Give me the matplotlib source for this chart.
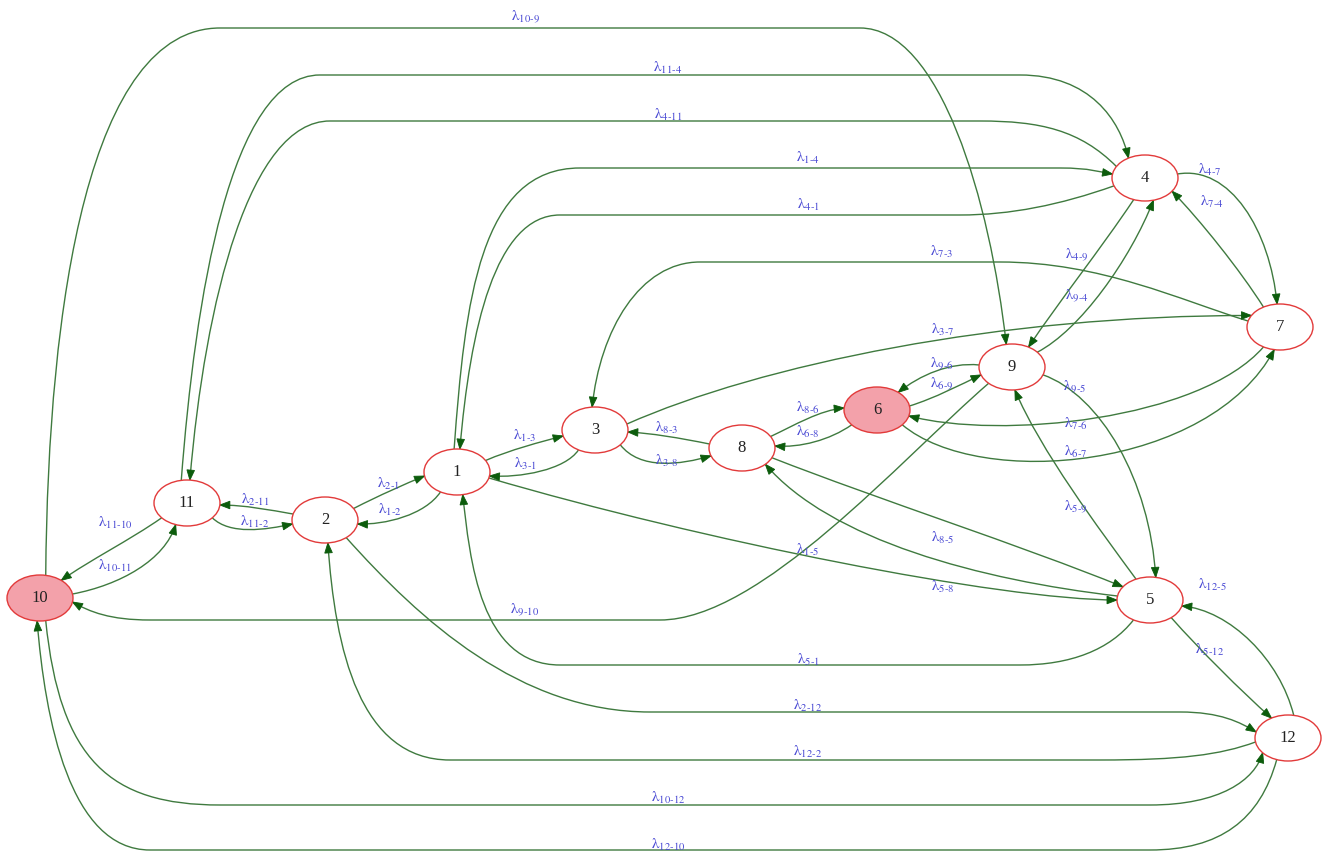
import numpy as np
import matplotlib.pyplot as plt
from matplotlib.path import Path
from matplotlib.patches import Ellipse, PathPatch, Polygon

plt.rcParams['mathtext.fontset'] = 'stix'

# nodes of the state graph
nodes = ['1', '2', '3', '4', '5', '6', '7', '8', '9', '10', '11', '12']
filled = ['6', '10']

# layout (pixel positions of the node centres)
node_x = [457, 325, 595, 1145, 1150, 877, 1280, 742, 1012, 40, 187, 1288]
node_y = [472, 520, 430, 178, 600, 410, 327, 448, 367, 598, 503, 738]
pos = dict(zip(nodes, zip(node_x, node_y)))
RX, RY = 33, 23

# transitions: source, target
edge_src = ['10', '11', '4', '1', '4', '4', '7', '7', '4', '9', '3', '9', '6', '9',
            '7', '6', '8', '6', '8', '3', '1', '3', '2', '1', '2', '11', '11', '10',
            '9', '8', '5', '1', '5', '5', '5', '12', '2', '12', '10', '12']
edge_dst = ['9', '4', '11', '4', '1', '7', '4', '3', '9', '4', '7', '6', '9', '5',
            '6', '7', '6', '8', '3', '8', '3', '1', '1', '2', '11', '2', '10', '11',
            '10', '5', '8', '5', '9', '1', '12', '5', '12', '2', '12', '10']

# routing: leave angle, arrive angle, bezier control points, label position
edge_a0 = [80, 100, 150, 95, 200, 10, 120, 165, 250, 40, 15, 175, 10, -20,
           240, -40, 30, 220, 170, -40, 30, 240, 30, 240, 165, -40, 220, 10,
           225, -25, 170, -15, 115, 240, -50, 80, -50, 190, 280, 250]
edge_a1 = [100, 120, 85, 170, 85, 95, -35, 95, 60, 285, 150, 50, 200, 80,
           -15, 260, 175, 5, -5, 200, 195, -10, 190, -10, -5, 190, 50, 250,
           -10, 145, -45, 180, 275, 280, 120, -15, 165, 275, 220, 265]
edge_ctrl = [
    [(48, 300), (90, 28), (220, 28), (400, 28), (700, 28), (860, 28), (940, 28), (990, 200)],
    [(195, 300), (230, 75), (320, 75), (500, 75), (800, 75), (1020, 75), (1090, 75), (1120, 120)],
    [(1080, 130), (1040, 121), (980, 121), (800, 121), (500, 121), (330, 121), (250, 121), (205, 300)],
    [(465, 300), (480, 168), (580, 168), (750, 168), (950, 168), (1060, 168), (1090, 168), (1100, 172)],
    [(1060, 205), (1010, 215), (960, 215), (800, 215), (650, 215), (560, 215), (495, 215), (470, 330)],
    [(1230, 165), (1270, 230)],
    [(1240, 270), (1200, 220)],
    [(1180, 300), (1100, 262), (1000, 262), (900, 262), (780, 262), (700, 262), (640, 262), (600, 330)],
    [(1100, 250), (1060, 300)],
    [(1080, 330), (1130, 260)],
    [(760, 365), (1000, 315)],
    [(950, 362), (920, 375)],
    [(935, 398), (960, 385)],
    [(1100, 395), (1150, 480)],
    [(1200, 420), (1000, 440)],
    [(980, 490), (1210, 470)],
    [(795, 425), (820, 410)],
    [(830, 440), (800, 448)],
    [(680, 438), (650, 433)],
    [(640, 470), (680, 465)],
    [(510, 450), (540, 442)],
    [(565, 470), (520, 478)],
    [(380, 495), (405, 484)],
    [(425, 515), (385, 525)],
    [(270, 510), (245, 505)],
    [(230, 535), (265, 530)],
    [(130, 540), (90, 560)],
    [(120, 585), (165, 560)],
    [(900, 460), (760, 620), (660, 620), (450, 620), (250, 620), (150, 620), (110, 620), (90, 612)],
    [(880, 500), (1020, 545)],
    [(980, 580), (830, 540)],
    [(700, 540), (1000, 600)],
    [(1100, 530), (1040, 450)],
    [(1110, 650), (1070, 665), (1020, 665), (850, 665), (700, 665), (560, 665), (480, 665), (470, 560)],
    [(1200, 650), (1240, 690)],
    [(1280, 660), (1230, 610)],
    [(420, 620), (520, 712), (650, 712), (850, 712), (1050, 712), (1180, 712), (1220, 712), (1240, 722)],
    [(1220, 755), (1180, 760), (1100, 760), (800, 760), (600, 760), (450, 760), (360, 760), (335, 650)],
    [(60, 760), (110, 805), (220, 805), (500, 805), (900, 805), (1150, 805), (1220, 805), (1255, 780)],
    [(1260, 820), (1220, 850), (1150, 850), (800, 850), (400, 850), (150, 850), (70, 850), (45, 720)],
]
label_x = [525, 668, 668, 808, 808, 1210, 1212, 942, 1077, 1077, 943, 942, 942, 1075,
           1076, 1076, 808, 808, 667, 667, 525, 525, 388, 390, 255, 255, 115, 115,
           525, 943, 943, 808, 1076, 808, 1210, 1212, 808, 808, 668, 668]
label_y = [17, 68, 115, 158, 205, 170, 202, 252, 255, 296, 330, 364, 384, 387,
           424, 452, 408, 432, 428, 461, 436, 464, 484, 510, 500, 522, 523, 566,
           610, 538, 587, 550, 507, 660, 650, 585, 706, 752, 798, 845]

EDGE = '#3f7a3f'
HEAD = '#0c5c0c'
LAB = '#4a4ad4'


def port(n, ang):
    cx, cy = pos[n]
    a = np.radians(ang)
    return (cx + RX * np.cos(a), cy - RY * np.sin(a))


fig = plt.figure(figsize=(13.24, 8.52), dpi=100)
ax = fig.add_axes([0, 0, 1, 1])
ax.set_xlim(0, 1324)
ax.set_ylim(852, 0)
ax.axis('off')

for i in range(len(edge_src)):
    p0 = port(edge_src[i], edge_a0[i])
    p1 = port(edge_dst[i], edge_a1[i])
    verts = [p0] + edge_ctrl[i] + [p1]
    codes = [Path.MOVETO] + [Path.CURVE4] * (len(verts) - 1)
    ax.add_patch(PathPatch(Path(verts, codes), fc='none', ec=EDGE, lw=1.0, zorder=1))
    # arrow head
    d = np.array(p1) - np.array(verts[-2])
    d = d / np.hypot(*d)
    nrm = np.array([-d[1], d[0]])
    tip = np.array(p1)
    base = tip - 10 * d
    ax.add_patch(Polygon([tip, base + 3.8 * nrm, base - 3.8 * nrm], closed=True,
                         fc=HEAD, ec=HEAD, lw=0.6, zorder=2))
    s, t = edge_src[i], edge_dst[i]
    ax.text(label_x[i], label_y[i], r'$\mathrm{λ}_{\mathrm{%s\text{-}%s}}$' % (s, t),
            color=LAB, fontsize=11, ha='center', va='center', zorder=3)

for n in nodes:
    cx, cy = pos[n]
    fc = '#f3a1aa' if n in filled else 'white'
    ax.add_patch(Ellipse((cx, cy), 2 * RX, 2 * RY, fc=fc, ec='#e23a3a', lw=1.0, zorder=4))
    ax.text(cx, cy, n, fontsize=12, family='Liberation Serif', ha='center', va='center',
            color='#222222', zorder=5)

fig.savefig('out.png', dpi=100)
